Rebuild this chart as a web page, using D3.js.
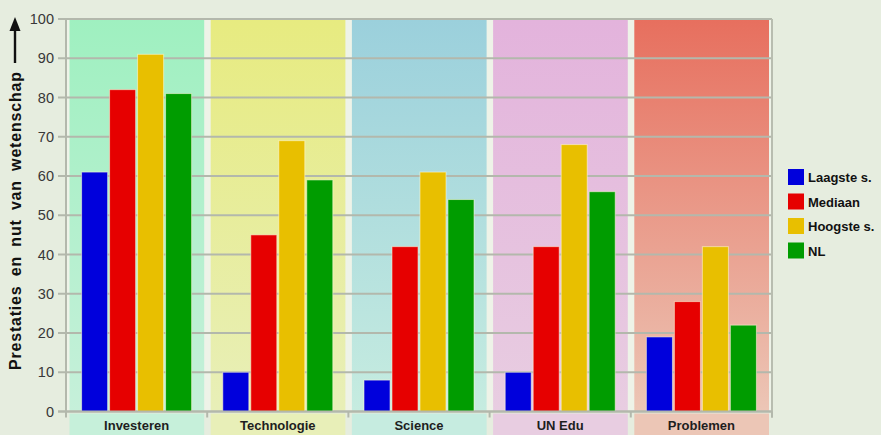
<!DOCTYPE html>
<html>
<head>
<meta charset="utf-8">
<script src="https://cdn.jsdelivr.net/npm/d3@7"></script>
<style>
  html, body { margin: 0; padding: 0; background: #e6eddf; }
  svg { display: block; font-family: Arial, "Liberation Sans", sans-serif; }
</style>
</head>
<body>
<svg id="chart" width="881" height="435"></svg>
<script>
// Categories, series and values
const categories = ["Investeren", "Technologie", "Science", "UN Edu", "Problemen"];
const seriesNames = ["Laagste s.", "Mediaan", "Hoogste s.", "NL"];
const seriesColors = ["#0000dc", "#e60000", "#e8bf00", "#009c00"];
const laagste = [61, 10, 8, 10, 19];
const mediaan = [82, 45, 42, 42, 28];
const hoogste = [91, 69, 61, 68, 42];
const nl = [81, 59, 54, 56, 22];
const seriesValues = [laagste, mediaan, hoogste, nl];
const yTicks = [0, 10, 20, 30, 40, 50, 60, 70, 80, 90, 100];
const yTitle = "Prestaties en nut van wetenschap";

// Band background gradients (top, bottom)
const bandTop = ["#9ff0c0", "#e7eb80", "#9bd0dc", "#e3b3dc", "#e76f5e"];
const bandBottom = ["#c6f0da", "#e8efb8", "#c6ece0", "#e8cde1", "#ecc6b6"];

const svg = d3.select("#chart");
const plotLeft = 66, plotRight = 772, plotTop = 19, plotBottom = 411.5;

const x = d3.scaleBand().domain(categories).range([plotLeft, plotRight]).paddingInner(0).paddingOuter(0);
const y = d3.scaleLinear().domain([0, 100]).range([plotBottom, plotTop]);
const xs = d3.scaleBand().domain(seriesNames).range([0, 110]).paddingInner(0.07);

const defs = svg.append("defs");
categories.forEach((c, i) => {
  const g = defs.append("linearGradient").attr("id", "band" + i)
    .attr("x1", 0).attr("y1", 0).attr("x2", 0).attr("y2", 1);
  g.append("stop").attr("offset", "0%").attr("stop-color", bandTop[i]);
  g.append("stop").attr("offset", "100%").attr("stop-color", bandBottom[i]);
});

// plot area base
svg.append("rect").attr("x", plotLeft).attr("y", plotTop)
  .attr("width", plotRight - plotLeft).attr("height", plotBottom - plotTop)
  .attr("fill", "#eef3e8");

// category bands
svg.append("g").selectAll("rect").data(categories).join("rect")
  .attr("x", d => x(d) + 3.5)
  .attr("y", plotTop)
  .attr("width", x.bandwidth() - 6.5)
  .attr("height", plotBottom - plotTop)
  .attr("fill", (d, i) => `url(#band${i})`);

// label boxes below the axis
svg.append("g").selectAll("rect").data(categories).join("rect")
  .attr("x", d => x(d) + 3.5)
  .attr("y", plotBottom + 2)
  .attr("width", x.bandwidth() - 6.5)
  .attr("height", 435 - plotBottom)
  .attr("fill", (d, i) => bandBottom[i]);

// gridlines
svg.append("g").selectAll("line").data(yTicks).join("line")
  .attr("x1", plotLeft - 8).attr("x2", plotRight)
  .attr("y1", d => y(d)).attr("y2", d => y(d))
  .attr("stroke", "#b3b8ac").attr("stroke-width", 2);

// right frame
svg.append("line").attr("x1", plotRight).attr("x2", plotRight)
  .attr("y1", plotTop).attr("y2", plotBottom + 6)
  .attr("stroke", "#b8bdb0").attr("stroke-width", 2);

// bars
const bars = svg.append("g");
categories.forEach((c, ci) => {
  const gx = x(c) + (x.bandwidth() - 110) / 2;
  seriesNames.forEach((s, si) => {
    const v = seriesValues[si][ci];
    bars.append("rect")
      .attr("x", gx + xs(s))
      .attr("y", y(v))
      .attr("width", xs.bandwidth())
      .attr("height", y(0) - y(v))
      .attr("fill", seriesColors[si])
      .attr("stroke", "rgba(255,250,220,0.55)")
      .attr("stroke-width", 1);
  });
});

// y axis
const yAxis = svg.append("g").attr("transform", `translate(${plotLeft},0)`)
  .call(d3.axisLeft(y).tickValues(yTicks).tickSize(8).tickPadding(4));
yAxis.select(".domain").attr("stroke", "#b3b8ac").attr("stroke-width", 2)
  .attr("d", `M0,${plotTop}V${plotBottom}`);
yAxis.selectAll(".tick line").remove();
yAxis.selectAll(".tick text").attr("font-size", 14.5).attr("fill", "#383838")
  .attr("font-family", "Arial, 'Liberation Sans', sans-serif");

// x axis
const xAxis = svg.append("g").attr("transform", `translate(0,${plotBottom})`)
  .call(d3.axisBottom(x).tickSize(0).tickPadding(9));
xAxis.select(".domain").attr("stroke", "#b3b8ac").attr("stroke-width", 2)
  .attr("d", `M${plotLeft - 8},0H${plotRight}`);
xAxis.selectAll(".tick text").attr("font-size", 13).attr("font-weight", "bold")
  .attr("fill", "#1e1e1e").attr("dy", "0.74em")
  .attr("font-family", "Arial, 'Liberation Sans', sans-serif");
// boundary ticks between categories
svg.append("g").selectAll("line").data(d3.range(categories.length + 1)).join("line")
  .attr("x1", i => plotLeft + i * x.step()).attr("x2", i => plotLeft + i * x.step())
  .attr("y1", plotBottom).attr("y2", plotBottom + 6)
  .attr("stroke", "#b3b8ac").attr("stroke-width", 2);

// y title with arrow
const tg = svg.append("g").attr("transform", "translate(21,370) rotate(-90)");
tg.append("text").attr("x", 0).attr("y", 0)
  .attr("font-size", 16).attr("font-weight", "bold").attr("fill", "#111")
  .attr("word-spacing", 4)
  .attr("textLength", 298).attr("lengthAdjust", "spacing")
  .text(yTitle);
tg.append("line").attr("x1", 307).attr("x2", 342).attr("y1", -6).attr("y2", -6)
  .attr("stroke", "#111").attr("stroke-width", 2.4);
tg.append("path").attr("d", "M353,-6 L339,-11.5 L339,-0.5 Z").attr("fill", "#111");

// legend
const lg = svg.append("g").attr("transform", "translate(788,169)");
seriesNames.forEach((s, i) => {
  const row = lg.append("g").attr("transform", `translate(0,${i * 24.5})`);
  row.append("rect").attr("width", 16).attr("height", 16).attr("fill", seriesColors[i]);
  row.append("text").attr("x", 20).attr("y", 13)
    .attr("font-size", 13).attr("font-weight", "bold").attr("fill", "#111")
    .text(s);
});
</script>
</body>
</html>
